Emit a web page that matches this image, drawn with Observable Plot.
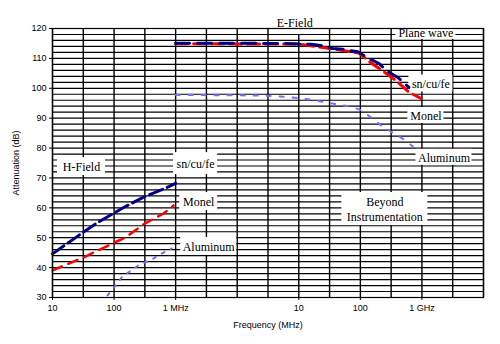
<!DOCTYPE html>
<html><head><meta charset="utf-8">
<script src="https://cdn.jsdelivr.net/npm/d3@7"></script>
<script src="https://cdn.jsdelivr.net/npm/@observablehq/plot@0.6"></script>
<style>body{margin:0;background:#fff;} svg{display:block;}</style>
</head><body><div id="chart"></div>
<script>
// x values are in the chart's own frequency units (log axis, 10 .. 1e8)
const snH_x = [10, 28.5, 54, 143, 302, 687, 1000];
const snH_y = [44.6, 51.2, 55.1, 60.1, 63.6, 66.6, 68.2];
const monelH_x = [10, 31.9, 94.6, 154, 302, 638, 927];
const monelH_y = [39.1, 43.4, 48.1, 50.1, 54.5, 58.1, 60.8];
const alH_x = [78, 106, 137, 193, 260, 407, 592, 861];
const alH_y = [30.7, 34.0, 37.1, 39.1, 41.1, 42.7, 44.7, 46.4];

const snE_x = [1000, 55000, 157000, 228000, 357000, 540000, 910000, 1370000, 2000000, 2800000, 4070000, 6150000];
const snE_y = [115.1, 115.0, 114.7, 114.3, 113.3, 113.0, 112.2, 110.0, 108.3, 105.6, 103.6, 100.3];
const monelE_x = [1000, 100000, 157000, 400000, 946000, 1480000, 2080000, 3780000, 6150000, 9640000];
const monelE_y = [114.9, 114.8, 114.2, 113.0, 111.8, 108.5, 106.5, 102.6, 98.7, 96.6];
const alE_x = [1000, 16600, 42300, 100000, 157000, 255000, 431000, 650000, 982000, 1480000, 2150000, 3250000, 4910000, 7140000];
const alE_y = [97.8, 97.6, 97.4, 96.7, 96.2, 95.4, 94.6, 93.9, 92.9, 90.3, 87.6, 85.3, 83.1, 80.5];

const xTickValues = [10, 100, 1000, 1e5, 1e6, 1e7];
const xTickLabels = ["10", "100", "1 MHz", "10", "100", "1 GHz"];
const yTickValues = [30, 40, 50, 60, 70, 80, 90, 100, 110, 120];

const labelTexts = ["E-Field", "Plane wave", "sn/cu/fe", "Monel", "Aluminum", "H-Field", "sn/cu/fe", "Monel", "Aluminum", "Beyond\nInstrumentation"];
const labelX = [86100, 1.16e7, 1.4e7, 1.16e7, 2.28e7, 29.6, 2110, 2370, 3440, 2.5e6];
const labelY = [122.0, 118.7, 101.6, 90.9, 76.9, 73.8, 74.8, 62.1, 47.1, 59.6];

const toRows = (xs, ys) => xs.map((x, i) => ({x, y: ys[i]}));
const labels = labelTexts.map((t, i) => ({text: t, x: labelX[i], y: labelY[i]}));
// box half sizes (px) for the white label backgrounds
const boxHalf = [[21, 12], [30, 7], [22, 8.5], [18, 8], [28, 8], [24, 9], [22, 11], [19, 9], [28, 9], [43, 16.5]];

const navy = "#000080", red = "#ff0000", lblue = "#7070ff";

const boxMarks = labels.map((d, i) => Plot.rect([d], {
  x1: "x", x2: "x", y1: "y", y2: "y", fill: "white",
  insetLeft: -boxHalf[i][0], insetRight: -boxHalf[i][0],
  insetTop: -boxHalf[i][1], insetBottom: -boxHalf[i][1]
}));

const gridX = d3.range(0, 15).map(i => Math.pow(10, 1 + i / 2));
const gridY = d3.range(30, 121, 2);

const chart = Plot.plot({
  width: 500, height: 344,
  marginLeft: 52, marginRight: 17, marginTop: 28, marginBottom: 47,
  style: {fontFamily: "'Liberation Sans', Arial, sans-serif", fontSize: "9px", color: "#000", background: "#fff"},
  x: {type: "log", domain: [10, 1e8]},
  y: {domain: [30, 120]},
  marks: [
    Plot.ruleY(gridY, {stroke: "#000", strokeWidth: 1.2}),
    Plot.ruleX(gridX, {stroke: "#000", strokeWidth: 1.4}),
    ...boxMarks,
    Plot.line(toRows(alH_x, alH_y), {x: "x", y: "y", stroke: lblue, strokeWidth: 2, strokeDasharray: "3,7"}),
    Plot.line(toRows(alE_x, alE_y), {x: "x", y: "y", stroke: lblue, strokeWidth: 2, strokeDasharray: "4,9"}),
    Plot.line(toRows(monelH_x, monelH_y), {x: "x", y: "y", stroke: red, strokeWidth: 2.5, strokeDasharray: "10,7"}),
    Plot.line(toRows(monelE_x, monelE_y), {x: "x", y: "y", stroke: red, strokeWidth: 3, strokeDasharray: "12,6"}),
    Plot.line(toRows(snH_x, snH_y), {x: "x", y: "y", stroke: navy, strokeWidth: 3, strokeDasharray: "14,5"}),
    Plot.line(toRows(snE_x, snE_y), {x: "x", y: "y", stroke: navy, strokeWidth: 3, strokeDasharray: "14,8"}),
    Plot.text(labels, {x: "x", y: "y", text: "text", fontFamily: "'Liberation Serif', 'Times New Roman', serif", fontSize: 12, lineHeight: 1.25, fill: "#000"}),
    Plot.frame({stroke: "#000", strokeWidth: 1.2}),
    Plot.axisX({ticks: xTickValues, tickFormat: d => xTickLabels[xTickValues.indexOf(d)], tickSize: 3, tickPadding: 4,
      label: "Frequency (MHz)", labelAnchor: "center", labelArrow: "none", labelOffset: 30}),
    Plot.axisY({ticks: yTickValues, tickSize: 3, tickPadding: 3,
      label: "Attenuation (dB)", labelAnchor: "center", labelArrow: "none", labelOffset: 40})
  ]
});
document.getElementById("chart").appendChild(chart);
</script>
</body></html>
